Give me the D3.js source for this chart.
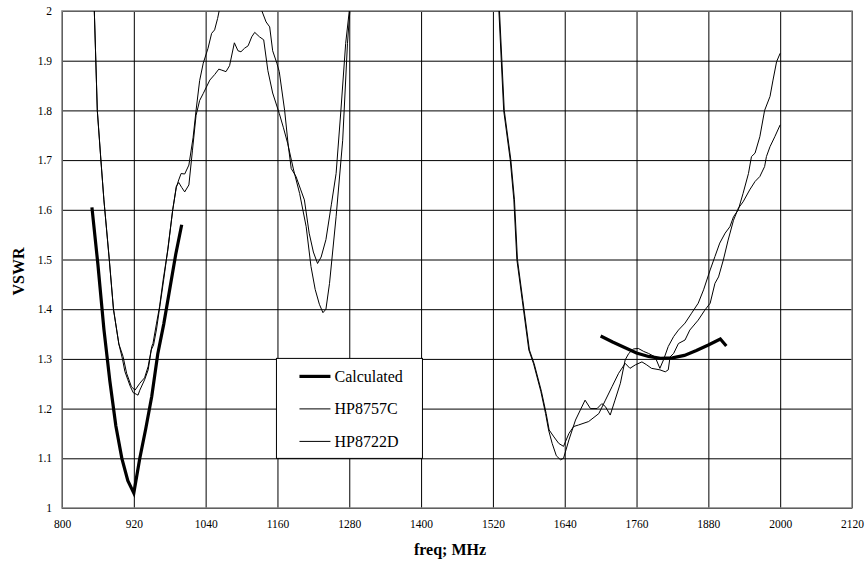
<!DOCTYPE html>
<html>
<head>
<meta charset="utf-8">
<script src="https://cdn.jsdelivr.net/npm/d3@7"></script>
<style>
  body { margin: 0; background: #fff; }
  text { font-family: "Liberation Serif", "Times New Roman", serif; }
</style>
</head>
<body>
<div id="chart"></div>
<script>
// tick values
var xTicks = [800, 920, 1040, 1160, 1280, 1400, 1520, 1640, 1760, 1880, 2000, 2120];
var yTicks = [1, 1.1, 1.2, 1.3, 1.4, 1.5, 1.6, 1.7, 1.8, 1.9, 2];

// calculated VSWR, two bands (null = gap)
var calculated = [
  [850, 1.605], [860, 1.49], [870, 1.36], [880, 1.255], [890, 1.165], [900, 1.10],
  [910, 1.055], [920, 1.03], [930, 1.10], [940, 1.16], [950, 1.225], [960, 1.31],
  [970, 1.37], [980, 1.44], [990, 1.51], [1000, 1.57],
  null,
  [1700, 1.346], [1720, 1.334], [1740, 1.323], [1760, 1.312], [1780, 1.305], [1800, 1.301],
  [1820, 1.302], [1840, 1.307], [1860, 1.317], [1880, 1.328], [1900, 1.340], [1910, 1.326]
];

// measured, HP8757C
var hp8757c = [
  [850, 2.13], [854, 2.0], [859, 1.80], [865, 1.70], [870, 1.62], [879, 1.50], [886, 1.40],
  [895, 1.33], [902, 1.305], [908, 1.271], [916, 1.244], [922, 1.237], [930, 1.251],
  [938, 1.262], [944, 1.285], [949, 1.318], [953, 1.328], [958, 1.36], [964, 1.41],
  [970, 1.46], [977, 1.523], [985, 1.60], [991, 1.645], [995, 1.66], [999, 1.673],
  [1005, 1.672], [1012, 1.69], [1019, 1.745], [1024, 1.80], [1030, 1.86], [1036, 1.895],
  [1044, 1.925], [1050, 1.955], [1055, 1.962], [1060, 1.985], [1066, 2.02], [1090, 2.1],
  [1110, 2.1], [1128, 2.03], [1134, 2.0], [1141, 1.978], [1147, 1.968], [1152, 1.92],
  [1159, 1.895], [1163, 1.878], [1172, 1.80], [1178, 1.73], [1183, 1.683], [1191, 1.667],
  [1199, 1.64], [1205, 1.62], [1213, 1.553], [1220, 1.515], [1227, 1.492], [1233, 1.505],
  [1241, 1.54], [1250, 1.61], [1258, 1.673], [1266, 1.80], [1274, 1.935], [1280, 2.0],
  [1284, 2.06], [1526, 2.08], [1530, 2.0], [1534, 1.90], [1538, 1.80], [1549, 1.70],
  [1555, 1.62], [1560, 1.50], [1569, 1.418], [1580, 1.318], [1588, 1.29], [1600, 1.235],
  [1608, 1.19], [1613, 1.157], [1619, 1.13], [1626, 1.105], [1633, 1.097], [1638, 1.10],
  [1647, 1.137], [1658, 1.177], [1666, 1.197], [1674, 1.217], [1683, 1.20], [1694, 1.20],
  [1702, 1.21], [1708, 1.204], [1716, 1.187], [1724, 1.217], [1733, 1.251], [1741, 1.298],
  [1747, 1.311], [1755, 1.32], [1763, 1.321], [1772, 1.315], [1780, 1.311], [1791, 1.304],
  [1799, 1.281], [1805, 1.298], [1813, 1.325], [1822, 1.345], [1830, 1.358], [1841, 1.372],
  [1852, 1.392], [1863, 1.412], [1872, 1.439], [1883, 1.479], [1891, 1.506], [1899, 1.533],
  [1908, 1.553], [1916, 1.566], [1922, 1.586], [1930, 1.60], [1938, 1.633], [1947, 1.673],
  [1952, 1.707], [1958, 1.714], [1966, 1.747], [1974, 1.80], [1983, 1.828], [1988, 1.861],
  [1994, 1.898], [2000, 1.915]
];

// measured, HP8722D
var hp8722d = [
  [850, 2.13], [854, 2.0], [859, 1.80], [865, 1.70], [870, 1.62], [879, 1.50], [886, 1.40],
  [895, 1.33], [901, 1.30], [905, 1.275], [910, 1.258], [914, 1.245], [919, 1.232],
  [924, 1.229], [927, 1.227], [930, 1.237], [938, 1.258], [944, 1.278], [950, 1.325],
  [952, 1.331], [958, 1.372], [963, 1.405], [969, 1.459], [977, 1.52], [985, 1.60],
  [991, 1.647], [995, 1.655], [1000, 1.645], [1005, 1.636], [1012, 1.65], [1018, 1.72],
  [1024, 1.79], [1030, 1.82], [1036, 1.834], [1047, 1.861], [1055, 1.872], [1062, 1.883],
  [1067, 1.881], [1074, 1.878], [1080, 1.89], [1088, 1.936], [1094, 1.92], [1099, 1.918],
  [1105, 1.925], [1111, 1.93], [1117, 1.948], [1122, 1.957], [1130, 1.948], [1137, 1.942],
  [1144, 1.88], [1152, 1.835], [1163, 1.794], [1170, 1.765], [1177, 1.734], [1187, 1.68],
  [1197, 1.633], [1208, 1.566], [1216, 1.486], [1223, 1.44], [1230, 1.41], [1236, 1.393],
  [1241, 1.40], [1247, 1.452], [1258, 1.586], [1269, 1.74], [1277, 1.935], [1281, 2.0],
  [1284, 2.05], [1527, 2.08], [1531, 2.0], [1535, 1.90], [1539, 1.80], [1550, 1.70],
  [1556, 1.62], [1561, 1.50], [1570, 1.418], [1581, 1.318], [1589, 1.29], [1601, 1.235],
  [1609, 1.19], [1614, 1.157], [1622, 1.143], [1630, 1.13], [1638, 1.124], [1647, 1.15],
  [1655, 1.164], [1663, 1.167], [1680, 1.174], [1697, 1.19], [1708, 1.217], [1719, 1.244],
  [1730, 1.271], [1741, 1.291], [1749, 1.281], [1758, 1.288], [1769, 1.294], [1777, 1.288],
  [1785, 1.281], [1799, 1.278], [1808, 1.274], [1813, 1.278], [1816, 1.304], [1822, 1.311],
  [1830, 1.331], [1841, 1.338], [1849, 1.358], [1863, 1.378], [1874, 1.398], [1883, 1.412],
  [1891, 1.452], [1897, 1.465], [1905, 1.499], [1913, 1.539], [1922, 1.579], [1930, 1.603],
  [1938, 1.616], [1949, 1.64], [1958, 1.657], [1966, 1.667], [1974, 1.687], [1977, 1.707],
  [1983, 1.727], [1991, 1.747], [2000, 1.771]
];

var seriesNames = ['Calculated', 'HP8757C', 'HP8722D'];

// Set the dimensions and margins of the graph
var margin = { top: 11, right: 16, bottom: 57, left: 62 };
var width = 868 - margin.left - margin.right;
var height = 565 - margin.top - margin.bottom;

var svg = d3.select('#chart').append('svg')
    .attr('width', 868)
    .attr('height', 565)
    .append('g')
    .attr('transform', 'translate(' + margin.left + ',' + margin.top + ')');

var x = d3.scaleLinear().domain([800, 2120]).range([0, width]);
var y = d3.scaleLinear().domain([1, 2]).range([height, 0]);

// clip for curves that go off the top
svg.append('clipPath').attr('id', 'plot-clip')
    .append('rect').attr('width', width).attr('height', height);

// grid + tick labels
var yAxis = svg.append('g')
    .call(d3.axisLeft(y).tickValues(yTicks).tickSize(-width).tickPadding(10)
        .tickFormat(function (d) { return Math.abs(d - Math.round(d)) < 1e-9 ? d3.format('d')(d) : d3.format('.1f')(d); }));
var xAxis = svg.append('g')
    .attr('transform', 'translate(0,' + height + ')')
    .call(d3.axisBottom(x).tickValues(xTicks).tickSize(-height).tickPadding(12)
        .tickFormat(d3.format('d')));

[xAxis, yAxis].forEach(function (g) {
    g.select('.domain').remove();
    g.selectAll('.tick line').attr('stroke', '#000').attr('stroke-width', 1);
    g.selectAll('.tick text').attr('fill', '#000').style('font-size', '11.5px');
});

// plot frame
svg.append('rect')
    .attr('width', width).attr('height', height)
    .attr('fill', 'none').attr('stroke', '#808080').attr('stroke-width', 1.5);

var line = d3.line()
    .defined(function (d) { return d !== null; })
    .x(function (d) { return x(d[0]); })
    .y(function (d) { return y(d[1]); });

var curves = svg.append('g').attr('clip-path', 'url(#plot-clip)');

[hp8757c, hp8722d].forEach(function (s) {
    curves.append('path')
        .datum(s)
        .attr('fill', 'none').attr('stroke', '#000').attr('stroke-width', 1)
        .attr('d', line);
});

curves.append('path')
    .datum(calculated)
    .attr('fill', 'none').attr('stroke', '#000').attr('stroke-width', 3.2)
    .attr('stroke-linejoin', 'miter')
    .attr('d', line);

// legend
var legend = svg.append('g')
    .attr('transform', 'translate(' + (x(1160) - 1) + ',' + (y(1.3) - 0.5) + ')');
legend.append('rect')
    .attr('width', 146).attr('height', 100)
    .attr('fill', '#fff').attr('stroke', '#000').attr('stroke-width', 1);
seriesNames.forEach(function (name, i) {
    var ly = 18 + i * 32.5;
    legend.append('line')
        .attr('x1', 23).attr('x2', 54).attr('y1', ly).attr('y2', ly)
        .attr('stroke', '#000').attr('stroke-width', i === 0 ? 3.2 : 1);
    legend.append('text')
        .attr('x', 58).attr('y', ly).attr('dy', '0.35em')
        .style('font-size', '16px')
        .text(name);
});

// axis titles
svg.append('text')
    .attr('x', width / 2 - 7).attr('y', height + 47)
    .attr('text-anchor', 'middle')
    .style('font-size', '16px').style('font-weight', 'bold')
    .text('freq; MHz');

svg.append('text')
    .attr('transform', 'translate(-38,' + (height / 2 + 12) + ') rotate(-90)')
    .attr('text-anchor', 'middle')
    .style('font-size', '16px').style('font-weight', 'bold')
    .text('VSWR');
</script>
</body>
</html>
